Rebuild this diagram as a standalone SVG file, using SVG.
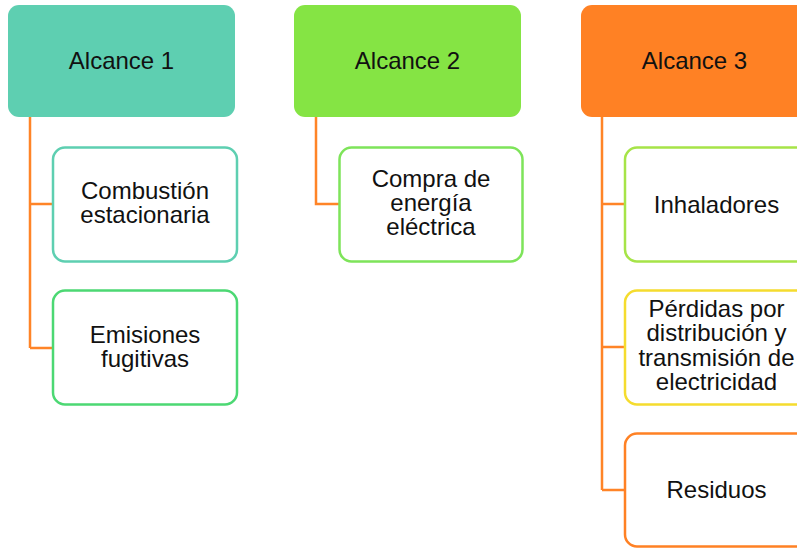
<svg xmlns="http://www.w3.org/2000/svg" width="797" height="548" viewBox="0 0 797 548">
<style>
  .hdr { stroke: none; }
  .child { fill: #ffffff; stroke-width: 2.5; }
  .t { font-family: "Liberation Sans", Arial, sans-serif; font-size: 24px; fill: #111111; text-anchor: middle; }
  .conn { fill: none; stroke: #FF8427; stroke-width: 2.5; }
</style>
<rect width="797" height="548" fill="#ffffff"/>
<g id="connectors">
  <path class="conn" d="M30,117 V348 M30,204 H52 M30,348 H52"/>
  <path class="conn" d="M316,117 V204 H339"/>
  <path class="conn" d="M602,117 V490 M602,204 H624 M602,347 H624 M602,490 H624"/>
</g>
<g id="alcance1">
  <rect class="hdr" x="8" y="5" width="227" height="112" rx="11" fill="#5ECFB1"/>
  <text class="t" x="121.5" y="69">Alcance 1</text>
</g>
<g id="alcance2">
  <rect class="hdr" x="294" y="5" width="227" height="112" rx="11" fill="#85E444"/>
  <text class="t" x="407.5" y="69">Alcance 2</text>
</g>
<g id="alcance3">
  <rect class="hdr" x="581" y="5" width="227" height="112" rx="11" fill="#FF8124"/>
  <text class="t" x="694.5" y="69">Alcance 3</text>
</g>
<g id="combustion">
  <rect class="child" x="53" y="147.5" width="184" height="114" rx="12" stroke="#5ECFB1"/>
  <text class="t" x="145" y="199">Combustión</text>
  <text class="t" x="145" y="223">estacionaria</text>
</g>
<g id="emisiones">
  <rect class="child" x="53" y="290.5" width="184" height="114" rx="12" stroke="#4CD873"/>
  <text class="t" x="145" y="343">Emisiones</text>
  <text class="t" x="145" y="367">fugitivas</text>
</g>
<g id="compra">
  <rect class="child" x="339.5" y="147.5" width="183" height="114" rx="12" stroke="#7EE45A"/>
  <text class="t" x="431" y="187">Compra de</text>
  <text class="t" x="431" y="211">energía</text>
  <text class="t" x="431" y="235">eléctrica</text>
</g>
<g id="inhaladores">
  <rect class="child" x="625" y="147.5" width="184" height="114" rx="12" stroke="#A6E448"/>
  <text class="t" x="716.5" y="213">Inhaladores</text>
</g>
<g id="perdidas">
  <rect class="child" x="625" y="290.5" width="184" height="114" rx="12" stroke="#F5DC2E"/>
  <text class="t" x="716.5" y="317">Pérdidas por</text>
  <text class="t" x="716.5" y="341">distribución y</text>
  <text class="t" x="716.5" y="366">transmisión de</text>
  <text class="t" x="716.5" y="390">electricidad</text>
</g>
<g id="residuos">
  <rect class="child" x="625" y="433.5" width="184" height="113" rx="12" stroke="#FF8124"/>
  <text class="t" x="716.5" y="498">Residuos</text>
</g>
</svg>
